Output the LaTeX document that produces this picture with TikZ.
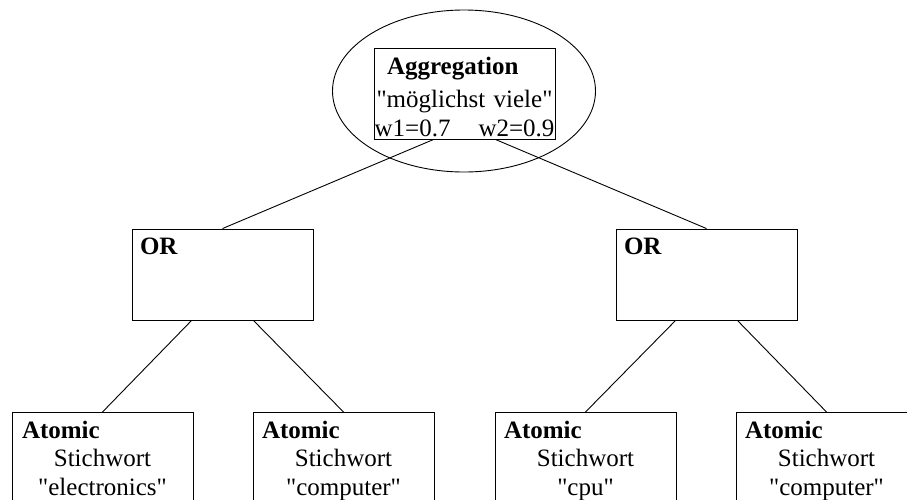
\documentclass[tikz,border=0pt]{standalone}
\usepackage{fontspec}
\setmainfont{Liberation Serif}[Ligatures=TeXOff]
\usetikzlibrary{positioning,calc,shapes.geometric}
\newcommand{\lefthead}[2]{\makebox[181pt][l]{\hspace*{#1}\textbf{#2}}}
\tikzset{
  opbox/.style={draw, line width=0.9pt, minimum width=181pt, minimum height=91pt, inner sep=0pt},
  atombox/.style={opbox, minimum height=100pt},
  boxtext/.style={font=\fontsize{25}{28.5}\selectfont, inner sep=0pt, text width=181pt, align=center, anchor=north},
  link/.style={line width=0.9pt},
}

\begin{document}
\begin{tikzpicture}[x=1pt, y=-1pt]
  \useasboundingbox (0,0) rectangle (907,499);
  \clip (0,0) rectangle (907,499);
  % aggregation node
  \node[draw, ellipse, line width=0.9pt, minimum width=263pt, minimum height=162pt, inner sep=0pt] (agg) at (464,91) {};
  \node[opbox] (aggbox) at (464.5,93.5) {};
  \node[boxtext] (aggtext) at ($(aggbox.north)+(0,7)$) {%
    \strut\lefthead{13pt}{Aggregation}\\[4.5pt]
    "möglichst viele"\\
    w1=0.7\hspace{28pt}w2=0.9};
  % OR nodes
  \node[opbox] (or1) at (222.5,274.5) {};
  \node[opbox] (or2) at (706.5,274.5) {};
  \node[boxtext] (or1text) at ($(or1.north)+(0,6)$) {\strut\lefthead{8pt}{OR}};
  \node[boxtext] (or2text) at ($(or2.north)+(0,6)$) {\strut\lefthead{8pt}{OR}};
  % atomic nodes
  \node[atombox, anchor=north] (at1) at (102.5,412) {};
  \node[atombox, anchor=north] (at2) at (343.5,412) {};
  \node[atombox, anchor=north] (at3) at (585.5,412) {};
  \node[atombox, anchor=north] (at4) at (826.5,412) {};
  \node[boxtext] (at1text) at ($(at1.north)+(0,6)$) {\strut\lefthead{10pt}{Atomic}\\ Stichwort\\ "electronics"};
  \node[boxtext] (at2text) at ($(at2.north)+(0,6)$) {\strut\lefthead{9pt}{Atomic}\\ Stichwort\\ "computer"};
  \node[boxtext] (at3text) at ($(at3.north)+(0,6)$) {\strut\lefthead{9pt}{Atomic}\\ Stichwort\\ "cpu"};
  \node[boxtext] (at4text) at ($(at4.north)+(0,6)$) {\strut\lefthead{9pt}{Atomic}\\ Stichwort\\ "computer"};
  % connectors
  \draw[link] ($(aggbox.south west)!0.33!(aggbox.south east)$) -- (or1.north);
  \draw[link] ($(aggbox.south west)!0.67!(aggbox.south east)$) -- (or2.north);
  \draw[link] ($(or1.south west)!0.33!(or1.south east)$) -- (at1.north);
  \draw[link] ($(or1.south west)!0.67!(or1.south east)$) -- (at2.north);
  \draw[link] ($(or2.south west)!0.33!(or2.south east)$) -- (at3.north);
  \draw[link] ($(or2.south west)!0.67!(or2.south east)$) -- (at4.north);
\end{tikzpicture}
\end{document}
